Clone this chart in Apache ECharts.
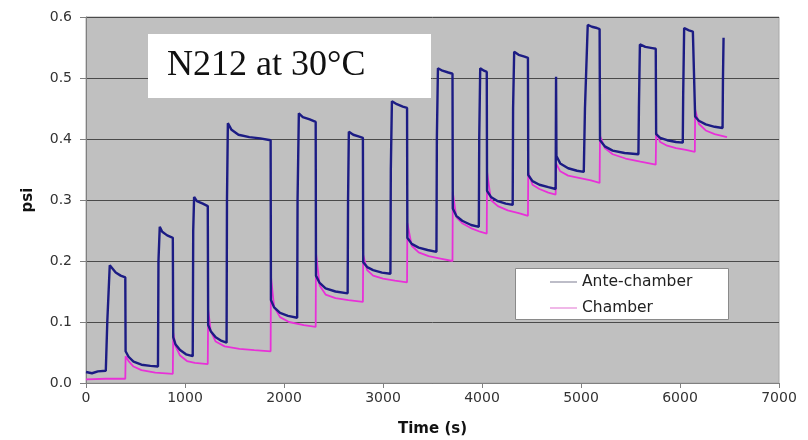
<!DOCTYPE html>
<html>
<head>
<meta charset="utf-8">
<script src="https://cdn.jsdelivr.net/npm/echarts@6/dist/echarts.min.js"></script>
<style>html,body{margin:0;padding:0;background:#fff;}#c{width:808px;height:440px;}</style>
</head>
<body>
<div id="c"></div>
<script>
var seriesNames = ['Ante-chamber', 'Chamber'];
var xTicks = [0, 1000, 2000, 3000, 4000, 5000, 6000, 7000];
var yTicks = [0.0, 0.1, 0.2, 0.3, 0.4, 0.5, 0.6];

var anteChamber = [
  [0,0.018],[60,0.016],[120,0.019],[200,0.02],
  [215,0.1],[240,0.193],[260,0.19],[300,0.181],[350,0.176],[397,0.173],
  [400,0.052],[430,0.043],[480,0.035],[560,0.03],[650,0.028],[727,0.027],
  [732,0.2],[745,0.256],[770,0.248],[820,0.242],[877,0.238],
  [881,0.075],[905,0.063],[950,0.054],[1010,0.047],[1078,0.044],
  [1083,0.25],[1092,0.305],[1120,0.298],[1180,0.294],[1230,0.29],
  [1234,0.095],[1260,0.085],[1310,0.075],[1370,0.069],[1420,0.066],
  [1424,0.3],[1433,0.426],[1470,0.415],[1540,0.407],[1650,0.403],[1760,0.401],[1865,0.398],
  [1868,0.136],[1900,0.124],[1960,0.115],[2040,0.11],[2133,0.107],
  [2137,0.3],[2150,0.442],[2190,0.436],[2260,0.432],[2320,0.428],
  [2323,0.176],[2360,0.164],[2420,0.155],[2520,0.15],[2643,0.147],
  [2647,0.3],[2655,0.412],[2700,0.407],[2760,0.404],[2797,0.402],
  [2800,0.198],[2840,0.19],[2900,0.185],[2990,0.181],[3075,0.179],
  [3079,0.35],[3090,0.462],[3140,0.457],[3200,0.453],[3243,0.451],
  [3246,0.238],[3290,0.228],[3360,0.222],[3450,0.218],[3540,0.215],
  [3544,0.4],[3555,0.516],[3600,0.512],[3660,0.509],[3702,0.507],
  [3705,0.286],[3740,0.274],[3800,0.266],[3890,0.259],[3968,0.256],
  [3972,0.4],[3982,0.516],[4020,0.512],[4048,0.51],
  [4051,0.315],[4090,0.305],[4160,0.298],[4240,0.294],[4310,0.292],
  [4314,0.45],[4325,0.543],[4370,0.538],[4430,0.535],[4464,0.533],
  [4467,0.341],[4510,0.331],[4580,0.325],[4670,0.321],[4744,0.318],
  [4748,0.502],[4752,0.372],[4790,0.36],[4870,0.352],[4960,0.348],[5028,0.346],
  [5040,0.45],[5068,0.587],[5110,0.584],[5160,0.582],[5188,0.58],
  [5192,0.398],[5240,0.388],[5320,0.381],[5440,0.377],[5580,0.375],
  [5585,0.45],[5595,0.555],[5650,0.551],[5720,0.549],[5755,0.548],
  [5759,0.408],[5800,0.402],[5870,0.398],[5960,0.395],[6028,0.394],
  [6032,0.47],[6042,0.582],[6090,0.578],[6130,0.576],[6150,0.575],
  [6153,0.437],[6190,0.43],[6260,0.424],[6350,0.42],[6430,0.418],
  [6434,0.5],[6440,0.566]
];

var chamber = [
  [0,0.006],[200,0.007],[397,0.007],
  [400,0.044],[430,0.036],[480,0.027],[560,0.021],[700,0.017],[877,0.015],
  [881,0.082],[905,0.06],[950,0.045],[1020,0.036],[1100,0.033],[1230,0.031],
  [1234,0.12],[1260,0.085],[1310,0.068],[1400,0.06],[1550,0.056],[1700,0.054],[1865,0.052],
  [1868,0.175],[1900,0.125],[1960,0.108],[2050,0.1],[2200,0.095],[2320,0.092],
  [2323,0.213],[2360,0.16],[2420,0.145],[2520,0.139],[2650,0.136],[2797,0.133],
  [2800,0.21],[2840,0.185],[2900,0.176],[3000,0.171],[3120,0.168],[3243,0.165],
  [3246,0.262],[3290,0.225],[3360,0.214],[3460,0.208],[3580,0.204],[3702,0.2],
  [3705,0.313],[3740,0.272],[3800,0.262],[3900,0.253],[3980,0.248],[4048,0.245],
  [4051,0.346],[4090,0.3],[4160,0.29],[4260,0.283],[4380,0.278],[4464,0.274],
  [4467,0.345],[4510,0.325],[4580,0.318],[4670,0.312],[4744,0.309],
  [4748,0.36],[4790,0.347],[4870,0.34],[4990,0.336],[5100,0.332],[5188,0.328],
  [5192,0.405],[5240,0.385],[5320,0.375],[5450,0.368],[5600,0.363],[5755,0.358],
  [5759,0.411],[5800,0.395],[5870,0.389],[5960,0.385],[6060,0.382],[6150,0.379],
  [6153,0.448],[6190,0.425],[6260,0.414],[6350,0.408],[6475,0.403]
];

var chart = echarts.init(document.getElementById('c'), null, {renderer: 'canvas'});
var font = '"DejaVu Sans", Verdana, sans-serif';
chart.setOption({
  animation: false,
  backgroundColor: '#ffffff',
  grid: {
    left: 86, right: 29, top: 17, bottom: 57,
    outerBoundsMode: 'none', containLabel: false,
    show: true, backgroundColor: '#c0c0c0', borderColor: '#a8a8a8', borderWidth: 1
  },
  xAxis: {
    type: 'value', min: xTicks[0], max: xTicks[xTicks.length - 1], interval: 1000,
    name: 'Time (s)', nameLocation: 'middle', nameGap: 39,
    nameTextStyle: {fontFamily: font, fontSize: 15, fontWeight: 'bold', color: '#111'},
    axisLine: {show: true, lineStyle: {color: '#808080', width: 1}},
    axisTick: {show: true, length: 5, lineStyle: {color: '#808080'}},
    axisLabel: {fontFamily: font, fontSize: 14, color: '#333', margin: 8,
      formatter: function (v) { return String(v); }},
    splitLine: {show: false}
  },
  yAxis: {
    type: 'value', min: yTicks[0], max: yTicks[yTicks.length - 1], interval: 0.1,
    name: 'psi', nameLocation: 'middle', nameGap: 50, nameRotate: 90,
    nameTextStyle: {fontFamily: font, fontSize: 15, fontWeight: 'bold', color: '#111'},
    axisLine: {show: true, lineStyle: {color: '#808080', width: 1}},
    axisTick: {show: true, length: 6, lineStyle: {color: '#808080'}},
    axisLabel: {fontFamily: font, fontSize: 14, color: '#333', margin: 14,
      formatter: function (v) { return v.toFixed(1); }},
    splitLine: {show: true, lineStyle: {color: '#4a4a4a', width: 1}}
  },
  legend: {
    orient: 'vertical', left: 550, top: 274, padding: 0,
    itemWidth: 27, itemHeight: 1, itemGap: 10,
    icon: 'rect',
    data: [
      {name: seriesNames[0], itemStyle: {color: '#7a7a90'}},
      {name: seriesNames[1], itemStyle: {color: '#e070d0'}}
    ],
    textStyle: {fontFamily: font, fontSize: 15.5, color: '#222'},
    z: 10
  },
  graphic: [
    {type: 'rect', z: 5, shape: {x: 148, y: 34, width: 283, height: 64}, style: {fill: '#ffffff'}},
    {type: 'text', z: 6, x: 167, y: 66, style: {text: 'N212 at 30°C', font: '36px "Liberation Serif", "Times New Roman", serif', fill: '#111', textVerticalAlign: 'middle'}},
    {type: 'rect', z: 5, shape: {x: 515.5, y: 268.5, width: 213, height: 51}, style: {fill: '#ffffff', stroke: '#8a8a8a', lineWidth: 1}}
  ],
  series: [
    {name: seriesNames[1], type: 'line', data: chamber, showSymbol: false, symbol: 'none',
      lineStyle: {color: '#e830d8', width: 1.8}, itemStyle: {color: '#e830d8'}, z: 2},
    {name: seriesNames[0], type: 'line', data: anteChamber, showSymbol: false, symbol: 'none',
      lineStyle: {color: '#1c1c84', width: 2.4}, itemStyle: {color: '#1c1c84'}, z: 3}
  ]
});
</script>
</body>
</html>
